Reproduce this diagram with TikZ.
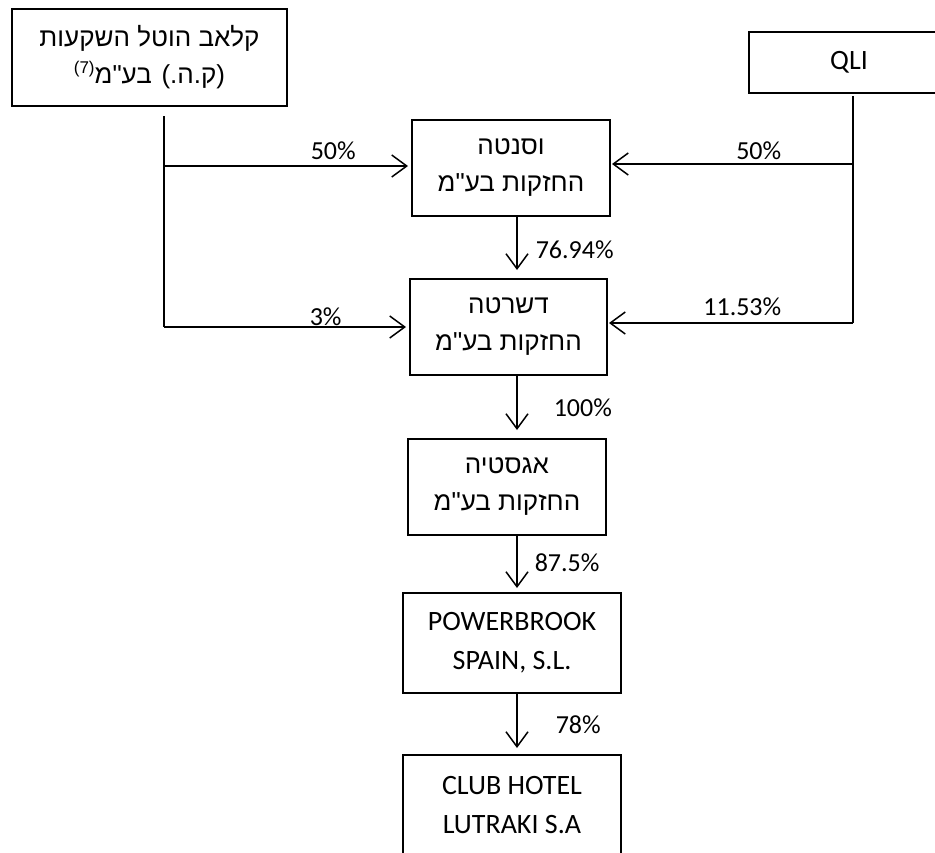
\documentclass[tikz,border=0pt]{standalone}
\usepackage{fontspec}
\setmainfont{Carlito}
\newfontfamily\hebfont[Script=Hebrew]{Liberation Sans}
\TeXXeTstate=1
\usetikzlibrary{arrows.meta}

\begin{document}
\begin{tikzpicture}[x=1pt,y=-1pt,line width=1.5pt,
  >={Straight Barb[length=15pt,width=22pt]},
  company/.style={draw,align=center,inner sep=0pt,outer sep=0pt},
  heb/.style={font=\hebfont\fontsize{26}{37}\selectfont},
  lat/.style={font=\fontsize{28}{39}\selectfont},
  share/.style={font=\fontsize{26}{30}\selectfont,inner sep=0pt}]
% Frame
\useasboundingbox (0,0) rectangle (935,852);
\clip (0,0) rectangle (935,852);

% Companies
\path (149.5,57.5) node[company,heb,minimum width=275pt,minimum height=97pt] (ClubInvest)
        {\beginR קלאב הוטל השקעות\endR\\\beginR(ק.ה.) בע"מ\raisebox{10pt}{\fontsize{17}{17}\selectfont\beginL(7)\endL}\endR}
      (849,62.5) node[company,lat,minimum width=200pt,minimum height=61pt] (Qli) {QLI}
      (511,168) node[company,heb,minimum width=198pt,minimum height=96pt] (Vasanta)
        {\beginR וסנטה\endR\\\beginR החזקות בע"מ\endR}
      (508.5,327) node[company,heb,minimum width=197pt,minimum height=96pt] (Darshata)
        {\beginR דשרטה\endR\\\beginR החזקות בע"מ\endR}
      (507,487) node[company,heb,minimum width=198pt,minimum height=96pt] (Agastia)
        {\beginR אגסטיה\endR\\\beginR החזקות בע"מ\endR}
      (512,643) node[company,lat,minimum width=218pt,minimum height=100pt] (Powerbrook)
        {POWERBROOK\\SPAIN, S.L.}
      (512,805) node[company,lat,minimum width=218pt,minimum height=100pt] (Lutraki)
        {CLUB HOTEL\\LUTRAKI S.A};

% Branch points
\coordinate (ClubTop) at (164,116);
\coordinate (ClubToVasanta) at (164,166);
\coordinate (ClubToDarshata) at (164,327);
\coordinate (QliTop) at (853,96);
\coordinate (QliToVasanta) at (853,164);
\coordinate (QliToDarshata) at (853,323);
\coordinate (Spine) at (517,0);

% Holdings
\draw (ClubTop) -- (ClubToDarshata);
\draw (QliTop) -- (QliToDarshata);
\draw[->,shorten >=4pt] (ClubToVasanta) -- (ClubToVasanta -| Vasanta.west);
\draw[->,shorten >=4pt] (ClubToDarshata) -- (ClubToDarshata -| Darshata.west);
\draw[->,shorten >=2pt] (QliToVasanta) -- (QliToVasanta -| Vasanta.east);
\draw[->,shorten >=2pt] (QliToDarshata) -- (QliToDarshata -| Darshata.east);
\draw[->,shorten >=9pt] (Vasanta.south -| Spine) -- (Darshata.north -| Spine);
\draw[->,shorten >=9pt] (Darshata.south -| Spine) -- (Agastia.north -| Spine);
\draw[->,shorten >=5pt] (Agastia.south -| Spine) -- (Powerbrook.north -| Spine);
\draw[->,shorten >=7pt] (Powerbrook.south -| Spine) -- (Lutraki.north -| Spine);

% Shares
\path (310,151) node[share,anchor=west] (PctClubVasanta) {50\%}
      (309,317) node[share,anchor=west] (PctClubDarshata) {3\%}
      (782,151) node[share,anchor=east] (PctQliVasanta) {50\%}
      (782,307) node[share,anchor=east] (PctQliDarshata) {11.53\%}
      (535,250) node[share,anchor=west] (PctVasantaDarshata) {76.94\%}
      (553,408) node[share,anchor=west] (PctDarshataAgastia) {100\%}
      (534,563) node[share,anchor=west] (PctAgastiaPowerbrook) {87.5\%}
      (555,725) node[share,anchor=west] (PctPowerbrookLutraki) {78\%};

\end{tikzpicture}
\end{document}
